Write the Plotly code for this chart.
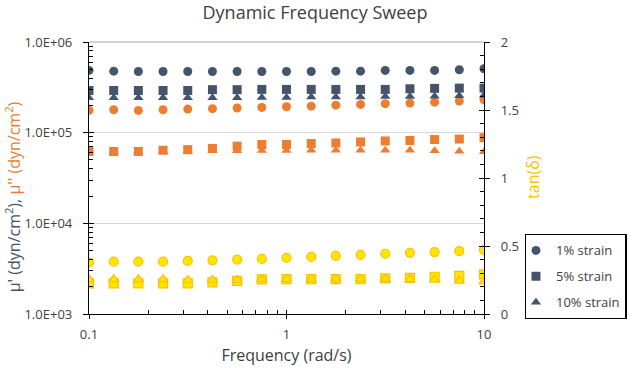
import plotly.graph_objects as go

# ---------------- data ----------------
freq = [0.1, 0.1334, 0.1778, 0.2371, 0.3162, 0.4217, 0.5623, 0.7499, 1.0,
        1.334, 1.778, 2.371, 3.162, 4.217, 5.623, 7.499, 10.0]

strains = ["1% strain", "5% strain", "10% strain"]

gp_1 = [486000, 477000, 473000, 473000, 473000, 473000, 473000, 473000, 473000,
        473000, 477000, 477000, 486000, 486000, 486000, 494000, 507000]
gp_5 = [292000, 292000, 292000, 292000, 292000, 298000, 298000, 300000, 300000,
        300000, 300000, 300000, 300000, 305000, 308000, 310000, 310000]
gp_10 = [243000, 243000, 243000, 243000, 243000, 243000, 243000, 245000, 245000,
         247000, 247000, 247000, 250000, 250000, 252000, 255000, 258000]

gpp_1 = [176000, 179000, 176000, 179000, 182000, 184000, 187000, 190000, 193000,
         196000, 201000, 205000, 209000, 212000, 217000, 223000, 231000]
gpp_5 = [62000, 62000, 62000, 64000, 65000, 67000, 71000, 74000, 74000,
         76000, 77000, 79000, 81000, 82000, 84000, 85000, 88000]
gpp_10 = [61500, 61500, 62000, 62000, 62500, 63000, 63000, 63500, 63500,
          63800, 63800, 63800, 63800, 63800, 63000, 62500, 61500]

tan_1 = [0.38, 0.385, 0.385, 0.385, 0.39, 0.395, 0.40, 0.405, 0.413,
         0.42, 0.428, 0.435, 0.443, 0.45, 0.455, 0.462, 0.47]
tan_5 = [0.225, 0.225, 0.225, 0.225, 0.225, 0.233, 0.244, 0.255, 0.257,
         0.257, 0.257, 0.257, 0.262, 0.266, 0.274, 0.281, 0.291]
tan_10 = [0.255, 0.255, 0.255, 0.255, 0.25, 0.25, 0.25, 0.255, 0.257,
          0.257, 0.257, 0.257, 0.257, 0.255, 0.25, 0.244, 0.237]

x_ticks = [0.1, 1, 10]
x_ticktext = ["0.1", "1", "10"]
y_ticks = [1e3, 1e4, 1e5, 1e6]
y_ticktext = ["1.0E+03", "1.0E+04", "1.0E+05", "1.0E+06"]
y2_ticks = [0, 0.5, 1, 1.5, 2]
y2_ticktext = ["0", "0.5", "1", "1.5", "2"]

# ---------------- styles ----------------
NAVY = "#44546A"
ORANGE = "#ED7D31"
YEL_FILL = "#FFE600"
YEL_LINE = "#FFC000"
TXT = "#404040"
FONT = "Open Sans"
symbols = ["circle", "square", "triangle-up"]
MS = 9

gp_all = [gp_1, gp_5, gp_10]
gpp_all = [gpp_1, gpp_5, gpp_10]
tan_all = [tan_1, tan_5, tan_10]

fig = go.Figure()
for i, name in enumerate(strains):
    grp = "g%d" % i
    fig.add_trace(go.Scatter(
        x=freq, y=gp_all[i], mode="markers", name=name, legendgroup=grp,
        showlegend=True,
        marker=dict(symbol=symbols[i], size=MS, color=NAVY, line=dict(width=0))))
    fig.add_trace(go.Scatter(
        x=freq, y=gpp_all[i], mode="markers", name=name, legendgroup=grp,
        showlegend=False,
        marker=dict(symbol=symbols[i], size=MS, color=ORANGE, line=dict(width=0))))
    fig.add_trace(go.Scatter(
        x=freq, y=tan_all[i], mode="markers", name=name, legendgroup=grp,
        showlegend=False, yaxis="y2",
        marker=dict(symbol=symbols[i], size=MS, color=YEL_FILL,
                    line=dict(width=1.2, color=YEL_LINE))))

# empty traces so that the overlay tick axes (crossing major ticks) are drawn
fig.add_trace(go.Scatter(x=[], y=[], xaxis="x2", yaxis="y3", showlegend=False,
                         hoverinfo="skip"))
fig.add_trace(go.Scatter(x=[], y=[], xaxis="x2", yaxis="y4", showlegend=False,
                         hoverinfo="skip"))

# minor tick positions
x_minor = [m * d for d in (0.1, 1) for m in range(2, 10)]
y_minor = [m * d for d in (1e3, 1e4, 1e5) for m in range(2, 10)]
y2_minor = [round(v * 0.1, 1) for v in range(0, 21) if v % 5 != 0]

AX_LINE = dict(showline=True, linecolor="black", linewidth=1.3)

fig.update_layout(
    width=630, height=370,
    margin=dict(l=89, r=145.7, t=41.5, b=56, autoexpand=False),
    paper_bgcolor="white", plot_bgcolor="white",
    font=dict(family=FONT, color=TXT, size=13),
    title=dict(text="Dynamic Frequency Sweep", x=0.5, xref="container",
               y=1 - 13 / 370, yref="container", xanchor="center", yanchor="middle",
               font=dict(family=FONT, size=18, color=TXT)),
    xaxis=dict(type="log", range=[-1, 1], tickvals=x_ticks, ticktext=x_ticktext,
               ticks="outside", ticklen=4, tickwidth=1.3, tickcolor="black",
               showgrid=False, zeroline=False, ticklabelstandoff=4,
               tickfont=dict(size=13, color=TXT),
               minor=dict(tickvals=x_minor, ticks="inside", ticklen=4,
                          tickwidth=1, tickcolor="black", showgrid=False),
               title=dict(text="Frequency (rad/s)", standoff=8,
                          font=dict(size=16, color=TXT)),
               **AX_LINE),
    xaxis2=dict(type="log", range=[-1, 1], overlaying="x", anchor="y",
                side="bottom", tickvals=x_ticks, showticklabels=False,
                ticks="inside", ticklen=4, tickwidth=1.3, tickcolor="black",
                showgrid=False, zeroline=False, showline=False),
    yaxis=dict(type="log", range=[3, 6], tickvals=y_ticks, ticktext=y_ticktext,
               ticks="outside", ticklen=5, tickwidth=1.3, tickcolor="black",
               showgrid=True, gridcolor="#D9D9D9", gridwidth=1, zeroline=False,
               ticklabelstandoff=8, tickfont=dict(size=13, color=TXT),
               minor=dict(tickvals=y_minor, ticks="inside", ticklen=4,
                          tickwidth=1, tickcolor="black", showgrid=False),
               **AX_LINE),
    yaxis2=dict(range=[0, 2], overlaying="y", side="right", anchor="x",
                tickvals=y2_ticks, ticktext=y2_ticktext,
                ticks="outside", ticklen=5, tickwidth=1.3, tickcolor="black",
                showgrid=False, zeroline=False, ticklabelstandoff=8,
                tickfont=dict(size=13, color=TXT),
                minor=dict(tickvals=y2_minor, ticks="inside", ticklen=4,
                           tickwidth=1, tickcolor="black", showgrid=False),
                **AX_LINE),
    yaxis3=dict(type="log", range=[3, 6], overlaying="y", side="left", anchor="x",
                tickvals=y_ticks, showticklabels=False, ticks="inside", ticklen=5,
                tickwidth=1.3, tickcolor="black", showgrid=False, zeroline=False,
                showline=False),
    yaxis4=dict(range=[0, 2], overlaying="y", side="right", anchor="x",
                tickvals=y2_ticks, showticklabels=False, ticks="inside", ticklen=5,
                tickwidth=1.3, tickcolor="black", showgrid=False, zeroline=False,
                showline=False),
    legend=dict(x=(525 - 89) / 395.3, y=(314 - 234) / 272.5, xanchor="left",
                yanchor="top", bordercolor="black", borderwidth=1.3,
                bgcolor="white", font=dict(size=13, color=TXT),
                traceorder="grouped", tracegroupgap=6, indentation=-10),
    showlegend=True,
)

# top frame line of the plot area
fig.add_shape(type="line", xref="paper", yref="paper", x0=0, x1=1, y0=1, y1=1,
              line=dict(color="#A6A6A6", width=1))

# axis titles (left one in two colours)
fig.add_annotation(
    text=("<span style='color:%s'>μ' (dyn/cm<sup>2</sup>),</span> "
          "<span style='color:%s'>μ'' (dyn/cm<sup>2</sup>)</span>") % (NAVY, ORANGE),
    xref="paper", yref="paper", x=(13 - 89) / 395.3, y=(314 - 197) / 272.5,
    xanchor="center", yanchor="middle", textangle=-90, showarrow=False,
    font=dict(family=FONT, size=16))
fig.add_annotation(
    text="tan(δ)", xref="paper", yref="paper", x=(534 - 89) / 395.3,
    y=(314 - 177) / 272.5, xanchor="center", yanchor="middle", textangle=-90,
    showarrow=False, font=dict(family=FONT, size=16, color=YEL_LINE))

fig.write_html("out.html")
